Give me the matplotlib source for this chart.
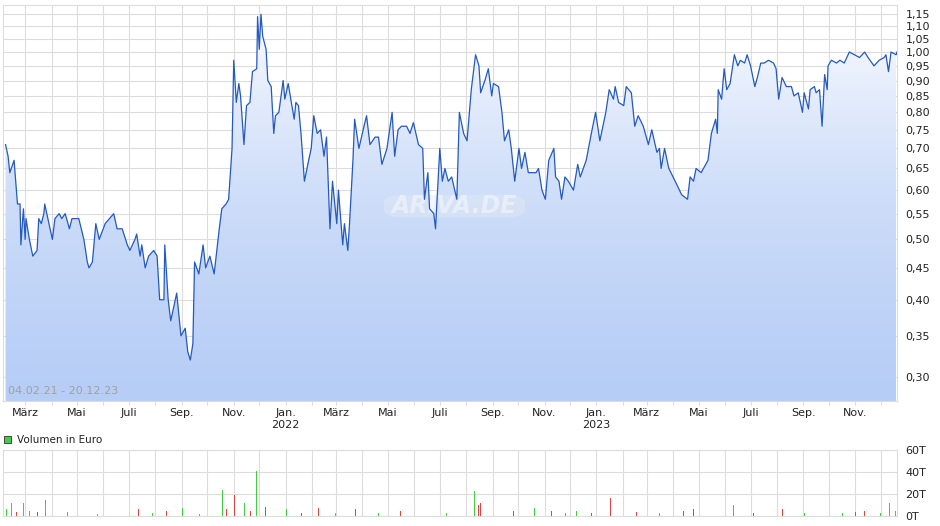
import numpy as np
import matplotlib
matplotlib.use("Agg")
import matplotlib.pyplot as plt
import matplotlib.dates as mdates
from matplotlib.patches import Rectangle, FancyBboxPatch
from matplotlib.ticker import FuncFormatter, NullLocator

start = np.datetime64("2021-02-04")

# days since 04.02.21 and closing price (EUR)
days = [2, 5, 7, 12, 16, 19, 20, 23, 25, 26, 30, 34, 39, 41, 44, 47, 48, 53, 57, 60,
        65, 68, 72, 77, 80, 88, 94, 98, 100, 104, 108, 112, 119, 129, 133, 139, 145, 148, 154, 156,
        160, 162, 166, 170, 176, 180, 183, 188, 189, 193, 196, 203, 208, 213, 216, 219, 222, 224, 229, 234,
        237, 242, 247, 253, 256, 261, 264, 268, 270, 273, 276, 278, 282, 285, 289, 292, 297, 298, 300, 302,
        304, 308, 310, 314, 317, 319, 323, 328, 330, 334, 337, 341, 343, 346, 349, 353, 358, 361, 364, 368,
        372, 376, 379, 383, 386, 391, 393, 398, 400, 404, 406, 410, 412, 417, 423, 426, 430, 436, 440, 444,
        450, 456, 459, 463, 467, 473, 477, 481, 487, 492, 494, 498, 500, 505, 507, 512, 515, 518, 522, 526,
        532, 535, 540, 544, 549, 554, 558, 560, 565, 569, 573, 575, 581, 585, 588, 593, 596, 600, 605, 608,
        612, 616, 620, 625, 628, 632, 636, 640, 646, 648, 652, 655, 659, 663, 669, 674, 677, 684, 690, 695,
        700, 707, 711, 716, 718, 722, 728, 731, 737, 741, 745, 751, 757, 761, 767, 770, 772, 776, 781, 786,
        791, 796, 803, 806, 810, 813, 819, 827, 831, 836, 838, 839, 843, 846, 849, 853, 858, 862, 865, 870,
        873, 877, 882, 885, 889, 893, 898, 904, 907, 910, 914, 919, 925, 928, 933, 938, 940, 945, 947, 952,
        954, 958, 961, 964, 967, 968, 972, 978, 982, 987, 993, 999, 1005, 1011, 1015, 1022, 1028, 1034, 1036, 1039,
        1042, 1048, 1049]
price = [0.71, 0.68, 0.64, 0.67, 0.57, 0.57, 0.49, 0.56, 0.50, 0.54, 0.50, 0.47, 0.48, 0.54, 0.53, 0.55, 0.57, 0.53, 0.50, 0.54,
         0.55, 0.54, 0.55, 0.52, 0.54, 0.54, 0.50, 0.46, 0.45, 0.46, 0.53, 0.50, 0.53, 0.55, 0.52, 0.52, 0.49, 0.48, 0.50, 0.51,
         0.47, 0.49, 0.45, 0.47, 0.48, 0.47, 0.40, 0.40, 0.49, 0.40, 0.37, 0.41, 0.35, 0.36, 0.33, 0.32, 0.34, 0.46, 0.44, 0.49,
         0.45, 0.47, 0.44, 0.52, 0.56, 0.57, 0.58, 0.70, 0.97, 0.83, 0.89, 0.85, 0.71, 0.82, 0.83, 0.93, 0.94, 1.14, 1.01, 1.15,
         1.06, 1.01, 0.90, 0.88, 0.74, 0.79, 0.80, 0.90, 0.84, 0.89, 0.84, 0.78, 0.83, 0.82, 0.74, 0.62, 0.67, 0.70, 0.79, 0.74,
         0.75, 0.68, 0.73, 0.52, 0.62, 0.53, 0.60, 0.49, 0.53, 0.48, 0.53, 0.67, 0.78, 0.70, 0.76, 0.79, 0.71, 0.73, 0.73, 0.66,
         0.70, 0.80, 0.68, 0.75, 0.76, 0.76, 0.74, 0.77, 0.71, 0.70, 0.58, 0.64, 0.56, 0.55, 0.52, 0.70, 0.62, 0.65, 0.62, 0.63,
         0.58, 0.80, 0.74, 0.72, 0.87, 0.99, 0.95, 0.86, 0.90, 0.94, 0.85, 0.89, 0.88, 0.80, 0.72, 0.75, 0.70, 0.62, 0.70, 0.65,
         0.69, 0.64, 0.64, 0.64, 0.65, 0.60, 0.58, 0.67, 0.70, 0.63, 0.62, 0.58, 0.63, 0.62, 0.60, 0.66, 0.63, 0.67, 0.74, 0.80,
         0.72, 0.80, 0.87, 0.84, 0.88, 0.83, 0.82, 0.88, 0.86, 0.76, 0.79, 0.76, 0.71, 0.75, 0.69, 0.70, 0.65, 0.70, 0.65, 0.63,
         0.61, 0.59, 0.58, 0.63, 0.62, 0.65, 0.64, 0.67, 0.74, 0.78, 0.74, 0.87, 0.84, 0.94, 0.87, 0.89, 0.99, 0.95, 0.97, 0.96,
         0.99, 0.95, 0.88, 0.91, 0.96, 0.96, 0.97, 0.96, 0.94, 0.84, 0.91, 0.88, 0.88, 0.85, 0.86, 0.80, 0.86, 0.81, 0.87, 0.88,
         0.86, 0.87, 0.76, 0.92, 0.87, 0.95, 0.97, 0.96, 0.97, 0.96, 1.00, 0.99, 0.98, 1.00, 0.98, 0.95, 0.97, 0.98, 0.99, 0.93,
         1.00, 0.99, 1.00]

# volume bars: day, thousand EUR, up day?
vol_days = [3, 6, 9, 15, 23, 30, 40, 49, 60, 75, 93, 110, 134, 147, 158, 175, 191, 210, 230, 257,
            262, 271, 283, 290, 297, 307, 315, 332, 350, 370, 390, 403, 413, 440, 466, 490, 520, 553, 557, 560,
            571, 585, 599, 623, 643, 660, 673, 690, 706, 713, 743, 770, 798, 810, 840, 857, 880, 915, 940, 968,
            985, 1000, 1011, 1030, 1040, 1047]
vol = [6, 22, 12, 4, 12, 5, 4, 15, 3, 4, 17, 2, 11, 10, 6, 3, 5, 7, 2, 24,
       6, 19, 12, 5, 41, 8, 5, 6, 3, 7, 3, 9, 6, 3, 5, 5, 3, 23, 10, 12,
       7, 4, 5, 7, 5, 3, 5, 3, 10, 16, 4, 3, 5, 6, 6, 10, 3, 6, 3, 12,
       3, 4, 5, 3, 12, 5]
vol_up = [1, 0, 1, 0, 1, 1, 0, 1, 0, 1, 0, 1, 0, 0, 0, 1, 0, 1, 1, 1,
          0, 0, 1, 0, 1, 0, 0, 1, 0, 0, 1, 0, 0, 1, 0, 0, 1, 1, 0, 0,
          0, 1, 0, 1, 0, 1, 1, 0, 1, 0, 0, 1, 0, 0, 0, 1, 0, 0, 1, 1,
          1, 0, 0, 1, 1, 1]

price_ticks = [0.30, 0.35, 0.40, 0.45, 0.50, 0.55, 0.60, 0.65, 0.70, 0.75, 0.80, 0.85,
               0.90, 0.95, 1.00, 1.05, 1.10, 1.15]
month_names = {1: "Jan.", 3: "März", 5: "Mai", 7: "Juli", 9: "Sep.", 11: "Nov."}

dates = start + np.array(days).astype("timedelta64[D]")
vdates = start + np.array(vol_days).astype("timedelta64[D]")
end = start + np.timedelta64(1049, "D")

fig = plt.figure(figsize=(9.4, 5.26), dpi=100)
grid_c = "#dcdcdc"
txt_c = "#222222"

ax = fig.add_axes([3 / 940, 1 - 401 / 526, 894 / 940, 396 / 526])
ax.set_yscale("log")
ax.set_ylim(0.275, 1.19)
ax.set_xlim(start - np.timedelta64(1, "D"), end)

# gradient fill under the line
x0, x1 = ax.get_xlim()
grad = np.linspace(0, 1, 256).reshape(-1, 1)
cmap = matplotlib.colors.LinearSegmentedColormap.from_list("g", ["#b6cdf6", "#ffffff"])
poly = ax.fill_between(dates, price, 0.2, color="none", lw=0)
img = ax.imshow(grad, cmap=cmap, aspect="auto", origin="lower",
                extent=[x0, x1, 0.275, 1.19], zorder=1)
img.set_clip_path(poly.get_paths()[0], transform=ax.transData)
ax.plot(dates, price, color="#2459c0", lw=0.9, zorder=3)

ax.set_yticks(price_ticks)
ax.yaxis.set_minor_locator(NullLocator())
ax.yaxis.set_major_formatter(FuncFormatter(lambda v, p: f"{v:.2f}".replace(".", ",")))
ax.yaxis.tick_right()
ax.tick_params(axis="y", length=0, labelsize=8, colors=txt_c, pad=6)
ax.xaxis.set_major_locator(mdates.MonthLocator())
ax.xaxis.set_major_formatter(FuncFormatter(
    lambda v, p: month_names.get(mdates.num2date(v).month, "") +
    ("\n" + str(mdates.num2date(v).year) if mdates.num2date(v).month == 1 else "")))
ax.tick_params(axis="x", length=3, labelsize=8, colors=txt_c, pad=2, color=grid_c)
ax.grid(True, color=grid_c, lw=0.8, zorder=0)
ax.set_axisbelow(True)
for s in ax.spines.values():
    s.set_color(grid_c)
ax.patch.set_alpha(0)

ax.text(0.006, 0.012, "04.02.21 - 20.12.23", transform=ax.transAxes, fontsize=8,
        color="#a0a0a0", va="bottom", zorder=4)
ax.add_patch(FancyBboxPatch((0.43, 0.468), 0.15, 0.048, boxstyle="round,pad=0.004,rounding_size=0.02",
                            transform=ax.transAxes, fc="#dde6f4", ec="none", alpha=0.6, zorder=2))
ax.text(0.505, 0.492, "ARIVA.DE", transform=ax.transAxes, fontsize=17, style="italic",
        fontweight="bold", color="#ffffff", alpha=0.45, ha="center", va="center", zorder=2)

# volume panel
vax = fig.add_axes([3 / 940, 10 / 526, 894 / 940, 66 / 526])
vax.set_xlim(ax.get_xlim())
vax.set_ylim(0, 60)
colors = ["#44cc44" if u else "#dd4444" for u in vol_up]
vax.bar(vdates, vol, width=1.0, color=colors, zorder=2)
vax.set_yticks([0, 20, 40, 60])
vax.set_yticklabels(["0T", "20T", "40T", "60T"])
vax.yaxis.tick_right()
vax.tick_params(axis="y", length=0, labelsize=8, colors=txt_c, pad=6)
vax.xaxis.set_major_locator(mdates.MonthLocator())
vax.tick_params(axis="x", length=0, labelbottom=False)
vax.grid(True, color=grid_c, lw=0.8, zorder=0)
vax.set_axisbelow(True)
for s in vax.spines.values():
    s.set_color(grid_c)

fig.patches.append(Rectangle((4 / 940, 1 - 443 / 526), 7 / 940, 7 / 526, transform=fig.transFigure,
                             fc="#44cc44", ec="#333333", lw=0.6))
fig.text(17 / 940, 1 - 440 / 526, "Volumen in Euro", fontsize=7.5, color=txt_c, va="center")

fig.savefig("out.png", dpi=100)
